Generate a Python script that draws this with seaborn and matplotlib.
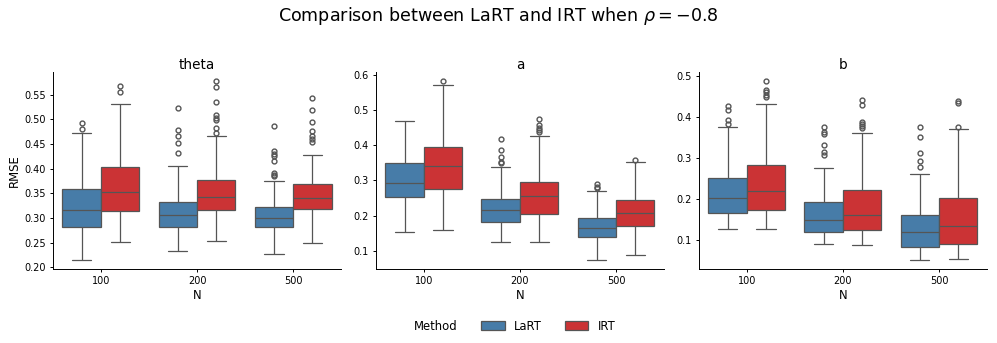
import pandas as pd
import matplotlib
matplotlib.use("Agg")
import matplotlib.pyplot as plt
from matplotlib.ticker import MultipleLocator
import seaborn as sns

# boxes are listed in this order
sizes = ["100", "100", "200", "200", "500", "500"]
methods = ["LaRT", "IRT", "LaRT", "IRT", "LaRT", "IRT"]

# each box: lower whisker, Q1, median, Q3, upper whisker
theta_box = [
    [0.215, 0.282, 0.317, 0.359, 0.472],
    [0.251, 0.315, 0.353, 0.403, 0.532],
    [0.234, 0.282, 0.307, 0.3325, 0.406],
    [0.253, 0.317, 0.343, 0.378, 0.466],
    [0.228, 0.282, 0.301, 0.322, 0.376],
    [0.249, 0.319, 0.341, 0.370, 0.428],
]
theta_out = [
    [0.481, 0.493],
    [0.555, 0.567],
    [0.431, 0.452, 0.467, 0.479, 0.524],
    [0.472, 0.483, 0.499, 0.503, 0.509, 0.535, 0.566, 0.578],
    [0.385, 0.388, 0.392, 0.415, 0.425, 0.430, 0.435, 0.486],
    [0.455, 0.460, 0.467, 0.477, 0.495, 0.520, 0.543],
]

a_box = [
    [0.152, 0.254, 0.293, 0.348, 0.468],
    [0.160, 0.276, 0.342, 0.396, 0.570],
    [0.124, 0.181, 0.215, 0.247, 0.339],
    [0.124, 0.205, 0.256, 0.294, 0.426],
    [0.074, 0.140, 0.166, 0.194, 0.270],
    [0.087, 0.169, 0.207, 0.2435, 0.353],
]
a_out = [
    [],
    [0.582],
    [0.348, 0.352, 0.366, 0.386, 0.418],
    [0.437, 0.443, 0.449, 0.457, 0.474],
    [0.277, 0.282, 0.290],
    [0.359],
]

b_box = [
    [0.126, 0.165, 0.202, 0.250, 0.375],
    [0.125, 0.172, 0.218, 0.282, 0.432],
    [0.089, 0.119, 0.147, 0.192, 0.275],
    [0.086, 0.123, 0.160, 0.220, 0.360],
    [0.050, 0.082, 0.119, 0.159, 0.260],
    [0.052, 0.089, 0.134, 0.202, 0.371],
]
b_out = [
    [0.382, 0.392, 0.416, 0.427],
    [0.449, 0.454, 0.460, 0.467, 0.488],
    [0.307, 0.314, 0.332, 0.358, 0.364, 0.375],
    [0.372, 0.377, 0.382, 0.387, 0.430, 0.442],
    [0.278, 0.292, 0.311, 0.350, 0.375],
    [0.376, 0.433, 0.439],
]

params = ["theta", "a", "b"]
boxes = {"theta": theta_box, "a": a_box, "b": b_box}
outs = {"theta": theta_out, "a": a_out, "b": b_out}


def sample_from_stats(st, extra):
    # values whose quartiles and whiskers give back the read summary
    lo, q1, med, q3, hi = st
    return [lo] + [q1] * 30 + [med] * 20 + [q3] * 30 + [hi] + list(extra)


rows = []
for p in params:
    for n, m, st, ex in zip(sizes, methods, boxes[p], outs[p]):
        for v in sample_from_stats(st, ex):
            rows.append({"param": p, "N": n, "Method": m, "RMSE": v})
df = pd.DataFrame(rows)

sns.set_style("ticks")
plt.rcParams.update({
    "text.color": "black",
    "axes.labelcolor": "black",
    "xtick.color": "black",
    "ytick.color": "black",
    "axes.edgecolor": "black",
    "axes.linewidth": 0.7,
    "xtick.major.width": 0.7,
    "ytick.major.width": 0.7,
    "xtick.major.size": 2.5,
    "ytick.major.size": 2.5,
    "xtick.major.pad": 2.5,
    "ytick.major.pad": 2.5,
})
palette = {"LaRT": "#377eb8", "IRT": "#e41a1c"}

fig, axes = plt.subplots(1, 3, figsize=(9.97, 3.43))
plt.subplots_adjust(left=0.053, right=0.99, bottom=0.216, top=0.79, wspace=0.12)

for i, p in enumerate(params):
    ax = axes[i]
    sns.boxplot(data=df[df["param"] == p], x="N", y="RMSE", hue="Method",
                order=["100", "200", "500"], hue_order=["LaRT", "IRT"],
                palette=palette, ax=ax, legend=(i == 0),
                linewidth=0.9, fliersize=3.5, linecolor="#555555")
    ax.set_title(p, fontsize=9.8, pad=2.5)
    ax.set_xlabel("N", fontsize=8.4, labelpad=2)
    ax.set_ylabel("RMSE" if i == 0 else "", fontsize=8.4, labelpad=2.8)
    ax.tick_params(labelsize=7)
    if p == "theta":
        ax.yaxis.set_major_locator(MultipleLocator(0.05))
    sns.despine(ax=ax)

handles, labels = axes[0].get_legend_handles_labels()
axes[0].legend_.remove()
blank = plt.Line2D([], [], linestyle="none")
fig.legend([blank] + handles, ["Method"] + labels, loc="lower center",
           bbox_to_anchor=(0.5, 0.0), ncol=3, frameon=False, fontsize=8.4)

fig.suptitle(r"Comparison between LaRT and IRT when $\rho = -0.8$", fontsize=12.6, y=0.985)

plt.savefig("out.png", dpi=100)
